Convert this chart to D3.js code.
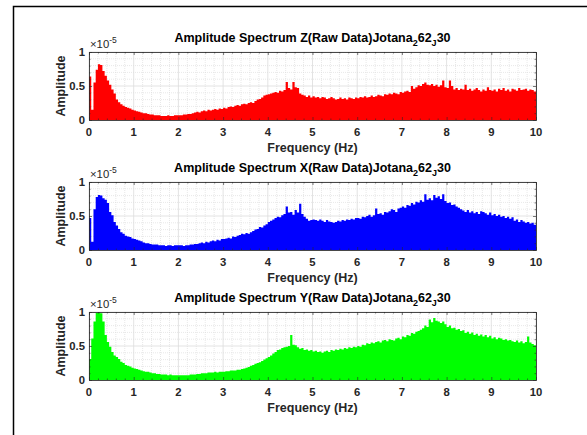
<!DOCTYPE html>
<html>
<head>
<meta charset="utf-8">
<script src="https://cdn.jsdelivr.net/npm/d3@7"></script>
<style>
  body { margin: 0; background: #fff; }
  svg { display: block; font-family: "Liberation Sans", Arial, sans-serif; }
</style>
</head>
<body>
<script>
// bin width of the spectra (Hz), one value per bin starting at 0 Hz
const binWidth = 0.05;

const ampZ = [
  0.64, 0.15, 0.55, 0.74, 0.82, 0.81, 0.72, 0.65, 0.58, 0.52, 0.45, 0.39, 0.30, 0.26, 0.23, 0.21, 0.19, 0.18, 0.17, 0.15,
  0.14, 0.13, 0.12, 0.11, 0.10, 0.10, 0.09, 0.08, 0.08, 0.07, 0.07, 0.07, 0.06, 0.06, 0.06, 0.07, 0.06, 0.06, 0.07, 0.07,
  0.07, 0.07, 0.08, 0.08, 0.09, 0.09, 0.10, 0.11, 0.12, 0.11, 0.13, 0.14, 0.13, 0.15, 0.14, 0.15, 0.16, 0.15, 0.17, 0.16,
  0.18, 0.17, 0.19, 0.20, 0.19, 0.21, 0.22, 0.21, 0.23, 0.24, 0.23, 0.25, 0.26, 0.25, 0.28, 0.30, 0.31, 0.33, 0.36, 0.37,
  0.38, 0.39, 0.40, 0.41, 0.40, 0.43, 0.42, 0.44, 0.56, 0.47, 0.45, 0.56, 0.48, 0.47, 0.39, 0.37, 0.36, 0.34, 0.36, 0.33,
  0.35, 0.33, 0.34, 0.32, 0.34, 0.33, 0.31, 0.32, 0.34, 0.32, 0.30, 0.31, 0.33, 0.31, 0.32, 0.30, 0.33, 0.32, 0.31, 0.33,
  0.32, 0.34, 0.33, 0.35, 0.33, 0.34, 0.36, 0.34, 0.35, 0.37, 0.36, 0.35, 0.38, 0.37, 0.39, 0.38, 0.40, 0.39, 0.38, 0.41,
  0.40, 0.42, 0.43, 0.41, 0.50, 0.46, 0.48, 0.51, 0.50, 0.53, 0.55, 0.52, 0.51, 0.53, 0.50, 0.52, 0.49, 0.51, 0.58, 0.48,
  0.47, 0.58, 0.50, 0.45, 0.47, 0.44, 0.46, 0.45, 0.52, 0.44, 0.46, 0.43, 0.45, 0.47, 0.44, 0.42, 0.45, 0.43, 0.48, 0.44,
  0.43, 0.45, 0.42, 0.46, 0.44, 0.47, 0.43, 0.45, 0.42, 0.46, 0.45, 0.43, 0.47, 0.44, 0.45, 0.46, 0.43, 0.45, 0.44, 0.42
];

const ampX = [
  0.47, 0.12, 0.60, 0.78, 0.81, 0.80, 0.76, 0.74, 0.69, 0.56, 0.51, 0.41, 0.36, 0.31, 0.26, 0.24, 0.21, 0.20, 0.19, 0.17,
  0.16, 0.15, 0.14, 0.13, 0.11, 0.10, 0.10, 0.09, 0.08, 0.08, 0.08, 0.07, 0.07, 0.07, 0.06, 0.07, 0.07, 0.06, 0.07, 0.07,
  0.07, 0.07, 0.06, 0.07, 0.07, 0.08, 0.08, 0.09, 0.09, 0.10, 0.11, 0.10, 0.12, 0.11, 0.13, 0.14, 0.13, 0.15, 0.14, 0.16,
  0.16, 0.17, 0.18, 0.17, 0.20, 0.19, 0.21, 0.22, 0.24, 0.23, 0.25, 0.24, 0.26, 0.28, 0.30, 0.31, 0.34, 0.33, 0.36, 0.38,
  0.41, 0.43, 0.45, 0.47, 0.49, 0.48, 0.51, 0.53, 0.64, 0.55, 0.56, 0.52, 0.59, 0.55, 0.68, 0.53, 0.49, 0.46, 0.43, 0.44,
  0.45, 0.44, 0.43, 0.45, 0.43, 0.41, 0.44, 0.42, 0.41, 0.40, 0.41, 0.43, 0.42, 0.44, 0.43, 0.45, 0.44, 0.46, 0.45, 0.47,
  0.47, 0.46, 0.49, 0.48, 0.50, 0.52, 0.49, 0.51, 0.61, 0.53, 0.54, 0.52, 0.56, 0.55, 0.57, 0.60, 0.59, 0.56, 0.61, 0.62,
  0.64, 0.62, 0.66, 0.65, 0.69, 0.67, 0.71, 0.70, 0.73, 0.71, 0.82, 0.74, 0.76, 0.73, 0.81, 0.77, 0.79, 0.75, 0.82, 0.72,
  0.69, 0.70, 0.66, 0.67, 0.64, 0.62, 0.60, 0.58, 0.56, 0.59, 0.55, 0.57, 0.54, 0.56, 0.53, 0.57, 0.56, 0.54, 0.52, 0.55,
  0.51, 0.53, 0.50, 0.52, 0.49, 0.50, 0.47, 0.49, 0.46, 0.48, 0.43, 0.45, 0.41, 0.44, 0.42, 0.40, 0.41, 0.39, 0.40, 0.37
];

const ampY = [
  0.31, 0.61, 0.86, 0.99, 1.00, 0.98, 0.86, 0.66, 0.56, 0.49, 0.41, 0.36, 0.34, 0.31, 0.27, 0.25, 0.22, 0.21, 0.20, 0.18,
  0.17, 0.16, 0.15, 0.14, 0.13, 0.12, 0.12, 0.11, 0.10, 0.10, 0.09, 0.09, 0.08, 0.08, 0.08, 0.07, 0.08, 0.07, 0.07, 0.07,
  0.07, 0.07, 0.07, 0.07, 0.07, 0.08, 0.08, 0.08, 0.09, 0.09, 0.10, 0.10, 0.10, 0.11, 0.11, 0.11, 0.12, 0.11, 0.12, 0.12,
  0.12, 0.13, 0.13, 0.14, 0.14, 0.14, 0.15, 0.15, 0.16, 0.17, 0.18, 0.19, 0.21, 0.22, 0.24, 0.25, 0.26, 0.28, 0.30, 0.32,
  0.34, 0.36, 0.39, 0.41, 0.44, 0.45, 0.47, 0.48, 0.49, 0.50, 0.66, 0.52, 0.51, 0.48, 0.46, 0.47, 0.44, 0.45, 0.43, 0.44,
  0.42, 0.43, 0.41, 0.42, 0.40, 0.42, 0.43, 0.41, 0.44, 0.43, 0.45, 0.44, 0.46, 0.45, 0.47, 0.46, 0.48, 0.47, 0.49, 0.48,
  0.50, 0.49, 0.52, 0.51, 0.54, 0.53, 0.55, 0.54, 0.56, 0.57, 0.55, 0.58, 0.59, 0.57, 0.60, 0.59, 0.58, 0.61, 0.62, 0.60,
  0.64, 0.63, 0.66, 0.65, 0.69, 0.68, 0.71, 0.72, 0.74, 0.76, 0.80, 0.78, 0.89, 0.85, 0.91, 0.87, 0.86, 0.84, 0.86, 0.82,
  0.78, 0.80, 0.76, 0.77, 0.74, 0.75, 0.72, 0.73, 0.69, 0.71, 0.68, 0.70, 0.66, 0.68, 0.65, 0.67, 0.64, 0.66, 0.63, 0.65,
  0.61, 0.63, 0.60, 0.62, 0.61, 0.59, 0.60, 0.58, 0.59, 0.57, 0.56, 0.58, 0.55, 0.57, 0.54, 0.56, 0.64, 0.55, 0.53, 0.51
];

const panelAxes = ["Z", "X", "Y"];
const panelColors = ["#ff0000", "#0000ff", "#00ff00"];
const xTicks = [0, 1, 2, 3, 4, 5, 6, 7, 8, 9, 10];
const yTicks = [0, 0.5, 1];
const yTickLabels = ["0", "0.5", "1"];

const width = 587, height = 435;
const left = 89, right = 536, ph = 68;
const tops = [52, 182, 312];
const tickFont = 11.3, labelFont = 12.5;

const svg = d3.select("body").append("svg")
    .attr("width", width)
    .attr("height", height);

svg.append("rect")
    .attr("x", 13.5).attr("y", 6.5)
    .attr("width", 700).attr("height", 600)
    .attr("fill", "none")
    .attr("stroke", "#000")
    .attr("stroke-width", 1.5);

const x = d3.scaleLinear().domain([0, 10]).range([left, right]);

[ampZ, ampX, ampY].forEach((amp, k) => {
    const top = tops[k];
    const y = d3.scaleLinear().domain([0, 1]).range([top + ph, top]);
    const g = svg.append("g");

    // grid (minor dotted, major solid), behind the data
    const minorX = d3.range(0, 10.001, 0.2).filter(v => Math.abs(v - Math.round(v)) > 1e-6);
    const minorY = d3.range(0, 1.001, 0.1).filter(v => Math.abs(v * 2 - Math.round(v * 2)) > 1e-6);
    g.append("g").selectAll("line").data(minorX).join("line")
        .attr("x1", d => x(d)).attr("x2", d => x(d))
        .attr("y1", top).attr("y2", top + ph)
        .attr("stroke", "#d8d8d8").attr("stroke-width", 0.6)
        .attr("stroke-dasharray", "1,1");
    g.append("g").selectAll("line").data(minorY).join("line")
        .attr("x1", left).attr("x2", right)
        .attr("y1", d => y(d)).attr("y2", d => y(d))
        .attr("stroke", "#d8d8d8").attr("stroke-width", 0.6)
        .attr("stroke-dasharray", "1,1");
    g.append("g").selectAll("line").data(xTicks).join("line")
        .attr("x1", d => x(d)).attr("x2", d => x(d))
        .attr("y1", top).attr("y2", top + ph)
        .attr("stroke", "#dcdcdc").attr("stroke-width", 0.8);
    g.append("g").selectAll("line").data(yTicks).join("line")
        .attr("x1", left).attr("x2", right)
        .attr("y1", d => y(d)).attr("y2", d => y(d))
        .attr("stroke", "#dcdcdc").attr("stroke-width", 0.8);

    // spectrum as stepped bars
    const pts = amp.map((v, i) => [i * binWidth, v]);
    pts.push([amp.length * binWidth, amp[amp.length - 1]]);
    const area = d3.area()
        .curve(d3.curveStepAfter)
        .x(d => x(d[0]))
        .y0(y(0))
        .y1(d => y(d[1]));
    g.append("path")
        .datum(pts)
        .attr("d", area)
        .attr("fill", panelColors[k]);

    // axes box with inward ticks on all sides
    const axisColor = "#262626";
    const xAxisB = d3.axisBottom(x).tickValues(xTicks).tickSizeInner(-3).tickSizeOuter(0).tickFormat("");
    const xAxisT = d3.axisTop(x).tickValues(xTicks).tickSizeInner(-3).tickSizeOuter(0).tickFormat("");
    const xMinB = d3.axisBottom(x).tickValues(minorX).tickSizeInner(-1.5).tickSizeOuter(0).tickFormat("");
    const xMinT = d3.axisTop(x).tickValues(minorX).tickSizeInner(-1.5).tickSizeOuter(0).tickFormat("");
    const yAxisL = d3.axisLeft(y).tickValues(yTicks).tickSizeInner(-3).tickSizeOuter(0).tickFormat("");
    const yAxisR = d3.axisRight(y).tickValues(yTicks).tickSizeInner(-3).tickSizeOuter(0).tickFormat("");
    const yMinL = d3.axisLeft(y).tickValues(minorY).tickSizeInner(-1.5).tickSizeOuter(0).tickFormat("");
    const yMinR = d3.axisRight(y).tickValues(minorY).tickSizeInner(-1.5).tickSizeOuter(0).tickFormat("");
    [[xAxisB, `0,${top + ph}`], [xMinB, `0,${top + ph}`], [xAxisT, `0,${top}`], [xMinT, `0,${top}`],
     [yAxisL, `${left},0`], [yMinL, `${left},0`], [yAxisR, `${right},0`], [yMinR, `${right},0`]]
        .forEach(([ax, tr]) => {
            const a = g.append("g").attr("transform", `translate(${tr})`).call(ax);
            a.selectAll("path, line").attr("stroke", axisColor).attr("stroke-width", 0.6);
        });

    // tick labels
    g.append("g").selectAll("text").data(xTicks).join("text")
        .attr("x", d => x(d)).attr("y", top + ph + 15.5)
        .attr("text-anchor", "middle")
        .attr("font-size", tickFont).attr("font-weight", "bold").attr("fill", axisColor)
        .text(d => d);
    g.append("g").selectAll("text").data(yTicks).join("text")
        .attr("x", left - 4).attr("y", d => y(d) + 4)
        .attr("text-anchor", "end")
        .attr("font-size", tickFont).attr("font-weight", "bold").attr("fill", axisColor)
        .text((d, i) => yTickLabels[i]);

    // exponent label
    const ex = g.append("text")
        .attr("x", left + 1).attr("y", top - 4.5)
        .attr("font-size", tickFont).attr("fill", axisColor);
    ex.append("tspan").text("\u00d710");
    ex.append("tspan").attr("font-size", 8.5).attr("dy", -4.5).text("-5");

    // axis labels
    g.append("text")
        .attr("x", (left + right) / 2).attr("y", top + ph + 32)
        .attr("text-anchor", "middle")
        .attr("font-size", labelFont).attr("font-weight", "bold").attr("fill", axisColor)
        .text("Frequency (Hz)");
    g.append("text")
        .attr("transform", `translate(65,${top + ph / 2}) rotate(-90)`)
        .attr("text-anchor", "middle")
        .attr("font-size", labelFont).attr("font-weight", "bold").attr("fill", axisColor)
        .text("Amplitude");

    // title with subscripts
    const t = g.append("text")
        .attr("x", (left + right) / 2).attr("y", top - 10)
        .attr("text-anchor", "middle")
        .attr("font-size", labelFont).attr("font-weight", "bold").attr("fill", "#000");
    t.append("tspan").text(`Amplitude Spectrum ${panelAxes[k]}(Raw Data)Jotana`);
    t.append("tspan").attr("font-size", 9).attr("dy", 3.5).text("2");
    t.append("tspan").attr("dy", -3.5).text("62");
    t.append("tspan").attr("font-size", 9).attr("dy", 3.5).text("J");
    t.append("tspan").attr("dy", -3.5).text("30");
});
</script>
</body>
</html>
